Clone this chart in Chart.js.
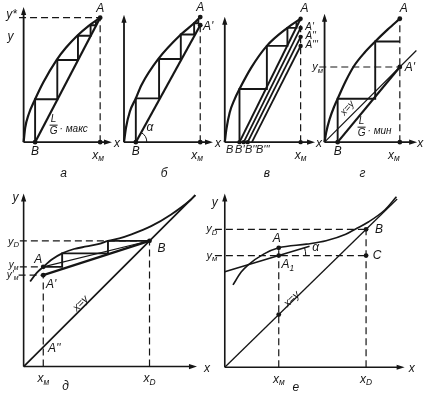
<!DOCTYPE html>
<html>
<head>
<meta charset="utf-8">
<script src="https://cdn.jsdelivr.net/npm/chart.js@4"></script>
<style>
  body { margin: 0; background: #fff; }
  #wrap { position: relative; width: 426px; height: 397px; }
  #wrap canvas { position: absolute; left: 0; top: 0; }
</style>
</head>
<body>
<div id="wrap"></div>
<script>
// ---- data (each panel in its own units, x_M or x_D = 1) ----

// а
const eqA = [[0,0],[0.02,0.115],[0.064,0.22],[0.15,0.345],[0.256,0.48],[0.43,0.66],[0.555,0.76],[0.70,0.855],[0.85,0.935],[1,1]];
const opA = [[0.15,0],[1,1]];
const stepsA = [[0.15,0],[0.15,0.345],[0.44,0.345],[0.44,0.66],[0.71,0.66],[0.71,0.855],[0.875,0.855],[0.875,0.94],[0.945,0.94],[0.945,0.972]];

// б
const eqB = [[0,0],[0.026,0.115],[0.077,0.245],[0.155,0.35],[0.228,0.455],[0.45,0.665],[0.745,0.86],[0.914,0.948],[1,1]];
const opB = [[0.155,0],[1,0.935]];
const stepsB = [[0.155,0],[0.155,0.35],[0.46,0.35],[0.46,0.665],[0.745,0.665],[0.745,0.86],[0.92,0.86],[0.92,0.95],[0.975,0.95],[0.975,0.985]];

// в
const eqC = [[0,0],[0.022,0.107],[0.065,0.24],[0.129,0.347],[0.194,0.43],[0.345,0.6],[0.555,0.78],[0.826,0.926],[1,1]];
const opC1 = [[0.194,0],[1,1]];
const opC2 = [[0.25,0],[1,0.925]];
const opC3 = [[0.302,0],[1,0.853]];
const opC4 = [[0.358,0],[1,0.779]];
const stepsC = [[0.194,0],[0.194,0.43],[0.555,0.43],[0.555,0.78],[0.826,0.78],[0.826,0.926],[0.945,0.926],[0.945,0.972]];

// г
const eqD = [[0,0],[0.022,0.13],[0.065,0.3],[0.13,0.48],[0.174,0.578],[0.28,0.81],[0.391,1.013],[0.53,1.19],[0.673,1.339],[0.84,1.5],[1,1.643]];
const opD = [[0.174,0],[1,1]];
const diagD = [[0,0],[1.22,1.22]];
const stepsD = [[0.174,0],[0.174,0.578],[0.673,0.578],[0.673,1.339],[1,1.339]];

// д
const eqE = [[0.052,0.676],[0.104,0.745],[0.156,0.793],[0.23,0.855],[0.306,0.9],[0.4,0.935],[0.5,0.955],[0.6,0.975],[0.67,1.0],[0.76,1.02],[0.857,1.052],[1.013,1.117],[1.169,1.208],[1.325,1.325],[1.364,1.364]];
const diagE = [[0,0],[1.364,1.364]];
const chordE = [[0.156,0.793],[1,1]];
const opE = [[0.156,0.727],[1,1]];
const stepsE = [[0.156,0.793],[0.306,0.793],[0.306,0.9],[0.67,0.9],[0.67,1],[1,1]];

// е
const eqF = [[0.058,0.597],[0.116,0.69],[0.162,0.739],[0.278,0.822],[0.382,0.866],[0.578,0.893],[0.717,0.917],[0.856,0.964],[0.926,1.003],[1.019,1.055],[1.134,1.142],[1.215,1.237]];
const diagF = [[0,0],[1.22,1.22]];
const tanF = [[0,0.692],[0.6,0.877]];

// ---- drawing helpers ----
const INK = '#161616';
const W = 426, H = 397;
const FONT = '"Liberation Sans", Arial, sans-serif';

const pts = arr => arr.map(([x, y]) => ({ x, y }));
const line = (d, w, extra) => Object.assign({ data: pts(d), showLine: true, borderColor: INK, borderWidth: w, pointRadius: 0, fill: false, tension: 0 }, extra || {});
const curve = (d, w) => line(d, w, { cubicInterpolationMode: 'monotone' });
const dashed = d => line(d, 1.2, { borderDash: [7, 4] });
const dots = (d, r) => ({ data: pts(d), showLine: false, pointRadius: r || 2.4, pointBackgroundColor: INK, pointBorderWidth: 0 });

function font(size) { return 'italic ' + size + 'px ' + FONT; }

function drawText(ctx, L, x, y) {
  const size = L.size || 12;
  ctx.save();
  ctx.translate(x, y);
  if (L.rot) ctx.rotate(L.rot * Math.PI / 180);
  ctx.fillStyle = INK;
  ctx.strokeStyle = INK;
  ctx.textBaseline = 'middle';
  if (L.frac) {
    ctx.font = font(size - 1);
    ctx.textAlign = 'center';
    ctx.fillText(L.frac[0], 0, -size * 0.5);
    ctx.fillText(L.frac[1], 0, size * 0.55);
    ctx.lineWidth = 1;
    ctx.beginPath(); ctx.moveTo(-4, 0); ctx.lineTo(4, 0); ctx.stroke();
    ctx.textAlign = 'left';
    ctx.fillText('· ' + L.suffix, 6, size * 0.35);
  } else {
    ctx.textAlign = 'left';
    ctx.font = font(size);
    const w1 = ctx.measureText(L.t).width;
    ctx.font = font(size * 0.7);
    const w2 = L.sub ? ctx.measureText(L.sub).width : 0;
    const sx = -(w1 + w2) / 2;
    ctx.font = font(size);
    ctx.fillText(L.t, sx, 0);
    if (L.sub) {
      ctx.font = font(size * 0.7);
      ctx.fillText(L.sub, sx + w1, size * 0.32);
    }
  }
  ctx.restore();
}

function panelPlugin(p) {
  return {
    id: 'panel',
    beforeDatasetsDraw(chart) {
      const ctx = chart.ctx;
      const X = v => chart.scales.x.getPixelForValue(v);
      const Y = v => chart.scales.y.getPixelForValue(v);
      const x0 = X(0), y0 = Y(0), xe = X(p.xEnd), ye = Y(p.yEnd);
      ctx.save();
      ctx.strokeStyle = INK;
      ctx.fillStyle = INK;
      ctx.lineWidth = p.axisW;
      ctx.beginPath();
      ctx.moveTo(x0, y0); ctx.lineTo(xe - 4, y0);
      ctx.moveTo(x0, y0); ctx.lineTo(x0, ye + 4);
      ctx.stroke();
      ctx.beginPath();
      ctx.moveTo(xe, y0); ctx.lineTo(xe - 8, y0 - 2.6); ctx.lineTo(xe - 8, y0 + 2.6); ctx.closePath();
      ctx.moveTo(x0, ye); ctx.lineTo(x0 - 2.6, ye + 8); ctx.lineTo(x0 + 2.6, ye + 8); ctx.closePath();
      ctx.fill();
      ctx.restore();
    },
    afterDatasetsDraw(chart) {
      const ctx = chart.ctx;
      const X = v => chart.scales.x.getPixelForValue(v);
      const Y = v => chart.scales.y.getPixelForValue(v);
      (p.arcs || []).forEach(a => {
        const cx = X(a.at[0]), cy = Y(a.at[1]);
        const ang = Math.atan2(Y(a.to[1][1]) - Y(a.to[0][1]), X(a.to[1][0]) - X(a.to[0][0]));
        ctx.save();
        ctx.strokeStyle = INK;
        ctx.lineWidth = 1;
        ctx.beginPath();
        ctx.arc(cx, cy, a.r, ang, 0, false);
        ctx.stroke();
        ctx.restore();
      });
      (p.labels || []).forEach(L => {
        drawText(ctx, L, X(L.at[0]) + (L.dx || 0), Y(L.at[1]) + (L.dy || 0));
      });
    }
  };
}

// ---- panels ----
const panels = [
  { // а
    ox: 20, oy: 141, sx: 78, sy: 127, xEnd: 1.154, yEnd: 1.087, axisW: 1.8,
    datasets: [
      curve(eqA, 2.2), line(opA, 2.2), line(stepsA, 1.9),
      dashed([[1,0],[1,1]]), dashed([[-0.06,1],[1,1]]),
      dots([[1,1],[0.15,0],[1,0]])
    ],
    labels: [
      { t: 'A', at: [1,1], dy: -9 },
      { t: 'B', at: [0.15,0], dy: 9 },
      { t: 'x', sub: 'м', at: [1,0], dx: -2, dy: 13 },
      { t: 'y*', at: [0,1], dx: -12, dy: -3 },
      { t: 'y', at: [0,1], dx: -13, dy: 19 },
      { t: 'x', at: [1.154,0], dx: 5, dy: 1 },
      { t: 'а', at: [0,0], dx: 40, dy: 31 },
      { frac: ['L','G'], suffix: 'макс', at: [0,0], dx: 30, dy: -17, size: 11 }
    ]
  },
  { // б
    ox: 122.3, oy: 141, sx: 77.7, sy: 127.7, xEnd: 1.167, yEnd: 1.018, axisW: 1.8,
    datasets: [
      curve(eqB, 2.2), line(opB, 2.2), line(stepsB, 1.9),
      dashed([[1,0],[1,0.935]]),
      dots([[1,1],[1,0.935],[0.155,0],[1,0]])
    ],
    arcs: [{ at: [0.155,0], r: 11, to: opB }],
    labels: [
      { t: 'A', at: [1,1], dy: -9 },
      { t: "A'", at: [1,0.935], dx: 8, dy: 1 },
      { t: 'B', at: [0.155,0], dy: 9 },
      { t: 'x', sub: 'м', at: [1,0], dx: -3, dy: 13 },
      { t: 'x', at: [1.167,0], dx: 5, dy: 1 },
      { t: 'б', at: [0,0], dx: 40, dy: 31 },
      { t: 'α', at: [0.155,0], dx: 14, dy: -15 }
    ]
  },
  { // в
    ox: 225, oy: 141, sx: 77.3, sy: 126, xEnd: 1.19, yEnd: 1.016, axisW: 1.8,
    datasets: [
      curve(eqC, 2.2), line(opC1, 2), line(opC2, 1.8), line(opC3, 1.8), line(opC4, 1.8),
      line(stepsC, 1.9),
      dashed([[1,0],[1,1]]),
      dots([[1,1],[1,0.925],[1,0.853],[1,0.779],[0.194,0],[0.25,0],[0.302,0],[1,0]], 2.2)
    ],
    labels: [
      { t: 'A', at: [1,1], dx: 4, dy: -10 },
      { t: "A'", at: [1,0.925], dx: 9, dy: -1, size: 10 },
      { t: "A''", at: [1,0.853], dx: 10, dy: -1, size: 10 },
      { t: "A'''", at: [1,0.779], dx: 11, dy: -1, size: 10 },
      { t: 'B', at: [0,0], dx: 5, dy: 8, size: 11 },
      { t: "B'", at: [0,0], dx: 15, dy: 8, size: 11 },
      { t: "B''", at: [0,0], dx: 26, dy: 8, size: 11 },
      { t: "B'''", at: [0,0], dx: 38, dy: 8, size: 11 },
      { t: 'x', sub: 'м', at: [1,0], dx: 0, dy: 13 },
      { t: 'x', at: [1.19,0], dx: 4, dy: 1 },
      { t: 'в', at: [0,0], dx: 42, dy: 31 }
    ]
  },
  { // г
    ox: 326.7, oy: 141, sx: 76.7, sy: 76.7, xEnd: 1.23, yEnd: 1.708, axisW: 1.8,
    datasets: [
      curve(eqD, 2.2), line(opD, 2.2), line(diagD, 1.2), line(stepsD, 1.9),
      dashed([[1,0],[1,1.643]]), dashed([[-0.07,1],[1,1]]),
      dots([[1,1.643],[1,1],[0.174,0],[1,0]])
    ],
    labels: [
      { t: 'A', at: [1,1.643], dx: 4, dy: -10 },
      { t: "A'", at: [1,1], dx: 10, dy: 1 },
      { t: 'y', sub: 'м', at: [0,1], dx: -7, dy: 0, size: 11 },
      { t: 'B', at: [0.174,0], dy: 9 },
      { t: 'x', sub: 'м', at: [1,0], dx: -6, dy: 13 },
      { t: 'x', at: [1.23,0], dx: 3, dy: 1 },
      { t: 'г', at: [0,0], dx: 38, dy: 31 },
      { t: 'x=y', at: [0,0], dx: 23, dy: -34, rot: -50, size: 10 },
      { frac: ['L','G'], suffix: 'мин', at: [0,0], dx: 37, dy: -15, size: 11 }
    ]
  },
  { // д
    ox: 20, oy: 370, sx: 128.3, sy: 128.3, xEnd: 1.377, yEnd: 1.377, axisW: 1.6,
    datasets: [
      curve(eqE, 1.8), line(diagE, 1.7), line(chordE, 1.1), line(opE, 2.2), line(stepsE, 1.9),
      dashed([[-0.03,1],[1,1]]), dashed([[-0.03,0.793],[0.156,0.793]]), dashed([[-0.04,0.727],[0.156,0.727]]),
      dashed([[0.156,0],[0.156,0.727]]), dashed([[1,0],[1,1]]),
      dots([[0.156,0.793],[0.156,0.727],[1,1]])
    ],
    labels: [
      { t: 'y', at: [0,1.377], dx: -8, dy: 4 },
      { t: 'y', sub: 'D', at: [0,1], dx: -10, dy: 1, size: 11 },
      { t: 'y', sub: 'м', at: [0,0.793], dx: -10, dy: -2, size: 10 },
      { t: "y'", sub: 'м', at: [0,0.727], dx: -11, dy: 0, size: 10 },
      { t: 'A', at: [0.156,0.793], dx: -5, dy: -7 },
      { t: "A'", at: [0.156,0.727], dx: 8, dy: 10 },
      { t: "A''", at: [0.156,0.156], dx: 11, dy: 2 },
      { t: 'B', at: [1,1], dx: 12, dy: 8 },
      { t: 'x', sub: 'м', at: [0.156,0], dy: 12 },
      { t: 'x', sub: 'D', at: [1,0], dy: 12 },
      { t: 'x', at: [1.377,0], dx: 10, dy: 2 },
      { t: 'д', at: [0,0], dx: 42, dy: 20 },
      { t: 'x=y', at: [0,0], dx: 57, dy: -63, rot: -45, size: 11 }
    ]
  },
  { // е
    ox: 225, oy: 370.7, sx: 144, sy: 140.7, xEnd: 1.273, yEnd: 1.261, axisW: 1.6,
    datasets: [
      curve(eqF, 1.6), line(diagF, 1.3), line(tanF, 1.6),
      dashed([[-0.07,1],[1,1]]), dashed([[-0.07,0.81],[1,0.81]]),
      dashed([[0.382,0],[0.382,0.866]]), dashed([[1,0],[1,1]]),
      dots([[0.382,0.866],[0.382,0.81],[1,1],[1,0.81],[0.382,0.382]])
    ],
    arcs: [{ at: [0.382,0.81], r: 27, to: tanF }],
    labels: [
      { t: 'y', at: [0,1.261], dx: -10, dy: 9 },
      { t: 'y', sub: 'D', at: [0,1], dx: -13, dy: 0, size: 11 },
      { t: 'y', sub: 'м', at: [0,0.81], dx: -13, dy: 0, size: 11 },
      { t: 'A', at: [0.382,0.866], dx: -2, dy: -9 },
      { t: 'A', sub: '1', at: [0.382,0.81], dx: 9, dy: 9 },
      { t: 'B', at: [1,1], dx: 13, dy: 0 },
      { t: 'C', at: [1,0.81], dx: 11, dy: 0 },
      { t: 'α', at: [0.382,0.81], dx: 37, dy: -8 },
      { t: 'x=y', at: [0,0], dx: 67, dy: -68, rot: -44, size: 11 },
      { t: 'x', sub: 'м', at: [0.382,0], dy: 12 },
      { t: 'x', sub: 'D', at: [1,0], dy: 12 },
      { t: 'x', at: [1.273,0], dx: 7, dy: 1 },
      { t: 'е', at: [0,0], dx: 71, dy: 20 }
    ]
  }
];

const wrap = document.getElementById('wrap');

panels.forEach(p => {
  const cv = document.createElement('canvas');
  cv.width = W;
  cv.height = H;
  wrap.appendChild(cv);
  new Chart(cv, {
    type: 'scatter',
    data: { datasets: p.datasets },
    options: {
      responsive: false,
      animation: false,
      devicePixelRatio: 1,
      events: [],
      layout: { padding: 0 },
      scales: {
        x: { type: 'linear', display: false, bounds: 'data', min: -p.ox / p.sx, max: (W - p.ox) / p.sx },
        y: { type: 'linear', display: false, bounds: 'data', min: (p.oy - H) / p.sy, max: p.oy / p.sy }
      },
      plugins: { legend: { display: false }, tooltip: { enabled: false } }
    },
    plugins: [panelPlugin(p)]
  });
});
</script>
</body>
</html>
